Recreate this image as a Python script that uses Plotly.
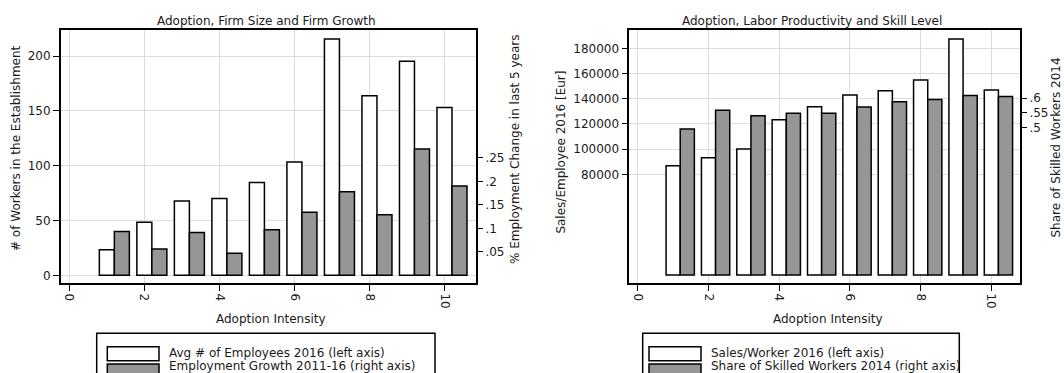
import plotly.graph_objects as go

# Adoption intensity categories (shared x for both panels)
adoption = [1, 2, 3, 4, 5, 6, 7, 8, 9, 10]

# Panel 1: firm size and firm growth
avg_employees_2016 = [23.4, 48.3, 67.8, 70.1, 84.7, 103.3, 215.6, 163.7, 195.3, 153.0]
employment_growth_2011_16 = [0.093, 0.056, 0.091, 0.047, 0.097, 0.134, 0.178, 0.129, 0.2685, 0.190]

# Panel 2: labor productivity and skill level
sales_per_worker_2016 = [86800, 93200, 100100, 123300, 133600, 142900, 146300, 154800, 187400, 146900]
share_skilled_2014 = [0.495, 0.559, 0.540, 0.549, 0.549, 0.5695, 0.5875, 0.5956, 0.609, 0.605]

x_ticks = [0, 2, 4, 6, 8, 10]
left_ticks_1 = [0, 50, 100, 150, 200]
right_ticks_1 = [0.05, 0.1, 0.15, 0.2, 0.25]
right_labels_1 = [".05", ".1", ".15", ".2", ".25"]
left_ticks_2 = [80000, 100000, 120000, 140000, 160000, 180000]
left_labels_2 = ["80000", "100000", "120000", "140000", "160000", "180000"]
right_ticks_2 = [0.5, 0.55, 0.6]
right_labels_2 = [".5", ".55", ".6"]

W, H = 1064, 373
FONT = "DejaVu Sans"
FS = 12
TXT = "#1a1a1a"
GRID = "#dcdcdc"
GRAY = "#969696"


def px(x):
    return x / W


def py(y):
    return 1 - y / H


fig = go.Figure()

bar_line = dict(color="black", width=1.5)

fig.add_trace(go.Bar(x=adoption, y=avg_employees_2016, width=0.4, offset=-0.2,
                     marker=dict(color="white", line=bar_line),
                     xaxis="x", yaxis="y", showlegend=False))
fig.add_trace(go.Bar(x=adoption, y=employment_growth_2011_16, width=0.4, offset=0.2,
                     marker=dict(color=GRAY, line=bar_line),
                     xaxis="x", yaxis="y2", showlegend=False))
fig.add_trace(go.Bar(x=adoption, y=sales_per_worker_2016, width=0.4, offset=-0.2,
                     marker=dict(color="white", line=bar_line),
                     xaxis="x2", yaxis="y3", showlegend=False))
fig.add_trace(go.Bar(x=adoption, y=share_skilled_2014, width=0.4, offset=0.2,
                     marker=dict(color=GRAY, line=bar_line),
                     xaxis="x2", yaxis="y4", showlegend=False))

tickfont = dict(family=FONT, size=FS, color=TXT)
ydom = [py(283.3), py(30)]

xcommon = dict(tickvals=x_ticks, tickangle=90, ticks="outside", ticklen=6,
               tickcolor="black", tickwidth=1, showline=True, linecolor="black",
               linewidth=1.5, mirror=True, showgrid=True, gridcolor=GRID,
               gridwidth=1, zeroline=False, tickfont=tickfont, fixedrange=True)
yleft = dict(ticks="outside", ticklen=6, tickcolor="black", tickwidth=1,
             showline=True, linecolor="black", linewidth=1.5, mirror=True,
             showgrid=True, gridcolor=GRID, gridwidth=1, zeroline=False,
             tickfont=tickfont, fixedrange=True)
yright = dict(side="right", ticks="outside", ticklen=6, tickcolor="black",
              tickwidth=1, showline=False, showgrid=False, zeroline=False,
              tickfont=tickfont, fixedrange=True)

fig.update_layout(
    width=W, height=H,
    margin=dict(l=0, r=0, t=0, b=0),
    paper_bgcolor="white", plot_bgcolor="white",
    barmode="overlay", showlegend=False,
    xaxis=dict(domain=[px(60.7), px(476)], anchor="y", range=[-0.23, 10.84], **xcommon),
    yaxis=dict(domain=ydom, anchor="x", range=[-7.3, 223.8],
               tickvals=left_ticks_1, **yleft),
    yaxis2=dict(overlaying="y", anchor="x", range=[-0.017, 0.5219],
                tickvals=right_ticks_1, ticktext=right_labels_1, **yright),
    xaxis2=dict(domain=[px(629.3), px(1020)], anchor="y3", range=[-0.24, 10.81], **xcommon),
    yaxis3=dict(domain=ydom, anchor="x2", range=[-6508, 194524],
                tickvals=left_ticks_2, ticktext=left_labels_2, **yleft),
    yaxis4=dict(overlaying="y3", anchor="x2", range=[-0.0278, 0.8308],
                tickvals=right_ticks_2, ticktext=right_labels_2, **yright),
)

annotations = []


def label(text, x, y, angle=0, xanchor="center"):
    annotations.append(dict(text=text, x=px(x), y=py(y), xref="paper", yref="paper",
                            showarrow=False, textangle=angle, xanchor=xanchor,
                            yanchor="middle", font=dict(family=FONT, size=FS, color=TXT)))


# Panel titles
label("Adoption, Firm Size and Firm Growth", 266, 21)
label("Adoption, Labor Productivity and Skill Level", 811.5, 21)

# Axis titles
label("Adoption Intensity", 271, 319)
label("Adoption Intensity", 827.5, 319)
label("# of Workers in the Establishment", 16, 148, angle=-90)
label("% Employment Change in last 5 years", 515, 149, angle=-90)
label("Sales/Employee 2016 [Eur]", 560.6, 152, angle=-90)
label("Share of Skilled Workers 2014", 1055.5, 148, angle=-90)

# Legends drawn as boxes with wide swatches
shapes = []
legends = [
    (96.7, 435, 107.3, 159, ["Avg # of Employees 2016 (left axis)",
                             "Employment Growth 2011-16 (right axis)"]),
    (642.7, 959.3, 649, 701, ["Sales/Worker 2016 (left axis)",
                              "Share of Skilled Workers 2014 (right axis)"]),
]
for bx0, bx1, sx0, sx1, texts in legends:
    shapes.append(dict(type="rect", xref="paper", yref="paper",
                       x0=px(bx0), x1=px(bx1), y0=py(390), y1=py(333.3),
                       line=dict(color="black", width=1.5), fillcolor="white", layer="above"))
    for (top, bottom), ty, fill, text in zip([(346.7, 360.7), (364, 378)], [353.2, 366.3],
                                             ["white", GRAY], texts):
        shapes.append(dict(type="rect", xref="paper", yref="paper",
                           x0=px(sx0), x1=px(sx1), y0=py(bottom), y1=py(top),
                           line=dict(color="black", width=1.5), fillcolor=fill, layer="above"))
        label(text, sx1 + 8, ty, xanchor="left")

fig.update_layout(annotations=annotations, shapes=shapes)

fig.write_html("out.html")
